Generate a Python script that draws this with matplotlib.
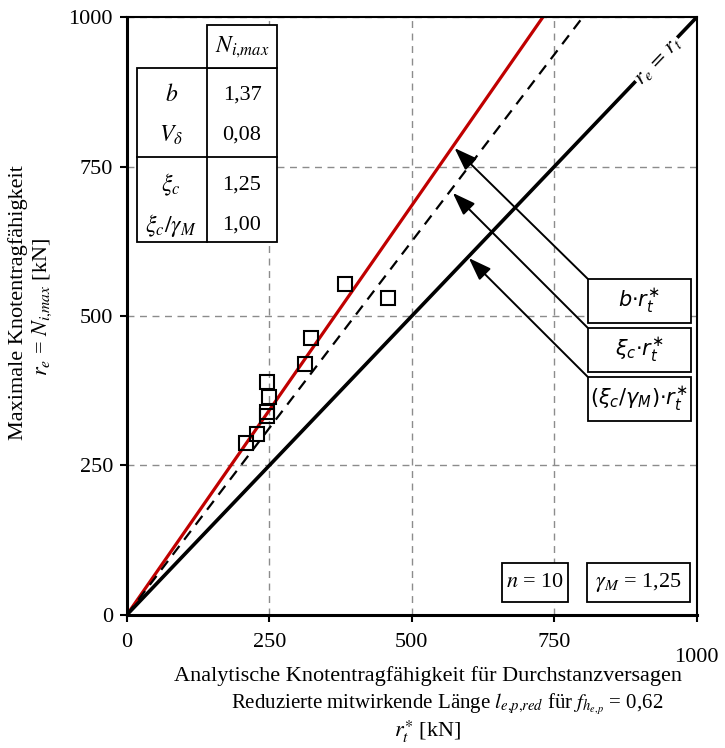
import numpy as np
import matplotlib
matplotlib.use('Agg')
import matplotlib.pyplot as plt
from matplotlib.patches import Rectangle

plt.rcParams['font.family'] = ['Liberation Serif', 'DejaVu Serif']
plt.rcParams['mathtext.fontset'] = 'stix'

# measured points: analytic resistance r_t* vs. maximum load r_e
rt = [209, 228, 246, 246, 249, 246, 312, 323, 382, 458]
re = [288, 303, 340, 333, 365, 390, 420, 463, 553, 530]

# factors
b = 1.37
xi_c = 1.25
xi_gamma = 1.00
gamma_m = 1.25
n_tests = 10
v_delta = 0.08

ticks = [0, 250, 500, 750, 1000]
tick_labels = ['0', '250', '500', '750', '']

fs = 16

fig = plt.figure(figsize=(7.25, 7.48), dpi=100)
ax = fig.add_axes([0.175, 0.178, 0.786, 0.799])
ax.set_xlim(0, 1000)
ax.set_ylim(0, 1000)

ax.grid(True, color='#8c8c8c', linestyle=(0, (5, 4)), linewidth=1.0)
ax.set_axisbelow(True)

x = np.array([0, 1000])
ax.plot(x, b * x, color='#c00000', linewidth=2.3, zorder=2)
ax.plot(x, xi_c * x, color='black', linewidth=1.6, linestyle=(0, (5, 3.5)), zorder=2)
ax.plot(x, xi_gamma * x, color='black', linewidth=2.6, zorder=2)

ax.plot(rt, re, 's', markersize=10, markerfacecolor='none',
        markeredgecolor='black', markeredgewidth=1.5, zorder=3)

# label on the 1:1 line
ax.text(933, 926, r'$r_e\,=\,r_t$', rotation=46.4, ha='center', va='center',
        fontsize=fs, rotation_mode='anchor', zorder=2.4,
        bbox=dict(facecolor='white', edgecolor='none', pad=0.5))

for s in ax.spines.values():
    s.set_linewidth(1.5)
    s.set_zorder(5)
ax.spines['left'].set_linewidth(2.2)
ax.spines['bottom'].set_linewidth(2.2)

ax.set_xticks(ticks)
ax.set_xticklabels(tick_labels)
ax.set_yticks(ticks)
ax.tick_params(direction='out', length=5, width=1.5, labelsize=fs)
ax.tick_params(axis='x', pad=8)
ax.tick_params(axis='y', pad=5)
ax.text(1000, -0.055, '1000', transform=ax.get_xaxis_transform(),
        ha='center', va='top', fontsize=fs)

# table top left
tab = dict(facecolor='white', edgecolor='black', linewidth=1.3, zorder=4)
ax.add_patch(Rectangle((17.5, 624), 245.5, 291, **tab))
ax.add_patch(Rectangle((140, 915), 123, 72, **tab))
ax.plot([140, 140], [624, 915], color='black', linewidth=1.3, zorder=4.5)
ax.plot([17.5, 263], [766, 766], color='black', linewidth=1.3, zorder=4.5)
ax.text(202, 950, r'$N_{i{,}max}$', ha='center', va='center', fontsize=fs + 1, zorder=6)
rows = [(r'$b$', f'{b:.2f}'.replace('.', ',')),
        (r'$V_\delta$', f'{v_delta:.2f}'.replace('.', ',')),
        (r'$\xi_c$', f'{xi_c:.2f}'.replace('.', ',')),
        (r'$\xi_c/\gamma_M$', f'{xi_gamma:.2f}'.replace('.', ','))]
row_y = [870, 803, 719, 652]
for (lab, val), yy in zip(rows, row_y):
    ax.text(78, yy, lab, ha='center', va='center', fontsize=fs + 1, zorder=6)
    ax.text(202, yy, val, ha='center', va='center', fontsize=fs, zorder=6)

# legend boxes with arrows
boxes = [(r'$b{\cdot}r_t^{\ast}$', 525, (575, 781)),
         (r'$\xi_c{\cdot}r_t^{\ast}$', 443, (572, 706)),
         (r'$(\xi_c/\gamma_M){\cdot}r_t^{\ast}$', 361, (600, 597))]
for lab, yc, head in boxes:
    ax.add_patch(Rectangle((809, yc - 37), 181, 74, facecolor='white',
                           edgecolor='black', linewidth=1.3, zorder=4))
    ax.text(899, yc, lab, ha='center', va='center', fontsize=15,
            math_fontfamily='dejavusans', zorder=6)
    ax.annotate('', xy=head, xytext=(809, yc + 37),
                arrowprops=dict(arrowstyle='-|>,head_length=0.7,head_width=0.25',
                                color='black', lw=1.4,
                                mutation_scale=20, shrinkA=0, shrinkB=0),
                zorder=4)

# info boxes bottom right
ax.add_patch(Rectangle((658, 22), 116, 65, facecolor='white',
                       edgecolor='black', linewidth=1.3, zorder=4))
ax.text(716, 54, r'$n$ = ' + str(n_tests), ha='center', va='center', fontsize=fs, zorder=6)
ax.add_patch(Rectangle((807, 22), 182, 65, facecolor='white',
                       edgecolor='black', linewidth=1.3, zorder=4))
ax.text(898, 54, r'$\gamma_M$ = ' + f'{gamma_m:.2f}'.replace('.', ','),
        ha='center', va='center', fontsize=fs, zorder=6)

# axis labels
fig.text(0.59, 0.096, 'Analytische Knotentragfähigkeit für Durchstanzversagen',
         ha='center', va='center', fontsize=fs)
fig.text(0.617, 0.058,
         r'Reduzierte mitwirkende Länge $l_{e{,}p{,}red}$ für $f_{h_{e{,}p}}$ = 0,62',
         ha='center', va='center', fontsize=15)
fig.text(0.59, 0.022, r'$r_t^{\ast}$ [kN]', ha='center', va='center', fontsize=fs)

fig.text(0.025, 0.595, 'Maximale Knotentragfähigkeit', rotation=90,
         ha='center', va='center', fontsize=fs)
fig.text(0.059, 0.59, r'$r_e$ = $N_{i{,}max}$ [kN]', rotation=90,
         ha='center', va='center', fontsize=fs)

fig.savefig('out.png', dpi=100)
